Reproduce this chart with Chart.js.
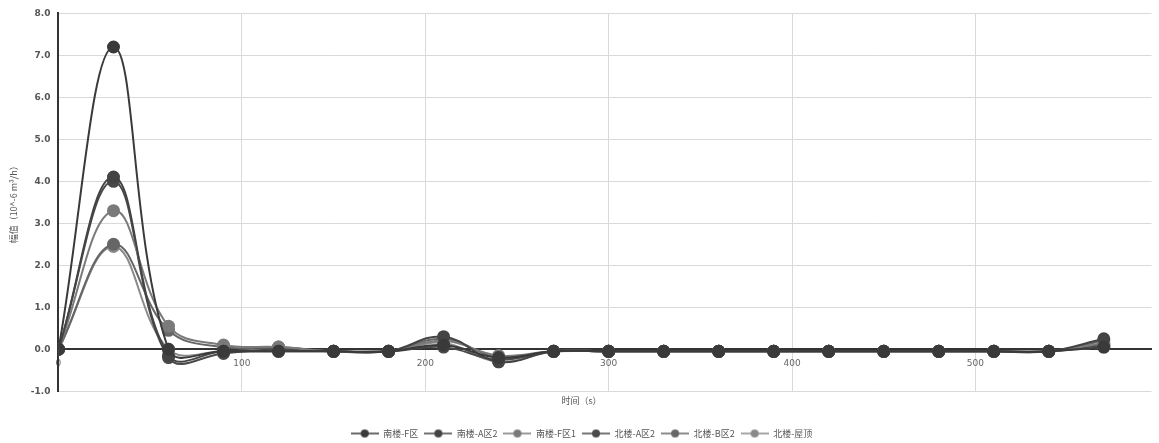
<!DOCTYPE html>
<html><head><meta charset="utf-8">
<script src="https://cdn.jsdelivr.net/npm/chart.js@4/dist/chart.umd.min.js"></script>
<style>html,body{margin:0;padding:0;background:#fff;}#wrap{width:1159px;height:443px;}</style>
</head><body><div id="wrap"><canvas id="c"></canvas></div>
<script>
const times = [0,30,60,90,120,150,180,210,240,270,300,330,360,390,420,450,480,510,540,570];
const seriesNames = ["南楼-F区","南楼-A区2","南楼-F区1","北楼-A区2","北楼-B区2","北楼-屋顶"];
const s1 = [0, 7.2, 0.0, -0.05, -0.05, -0.05, -0.05, 0.1, -0.2, -0.05, -0.05, -0.05, -0.05, -0.05, -0.05, -0.05, -0.05, -0.05, -0.05, 0.05];
const s2 = [0, 4.1, -0.15, -0.05, -0.05, -0.05, -0.05, 0.3, -0.3, -0.05, -0.05, -0.05, -0.05, -0.05, -0.05, -0.05, -0.05, -0.05, -0.05, 0.25];
const s3 = [0, 3.3, 0.55, 0.1, 0.05, -0.05, -0.05, 0.2, -0.15, -0.05, -0.05, -0.05, -0.05, -0.05, -0.05, -0.05, -0.05, -0.05, -0.05, 0.15];
const s4 = [0, 4.0, -0.2, -0.1, 0.0, -0.05, -0.05, 0.05, -0.25, -0.05, -0.05, -0.05, -0.05, -0.05, -0.05, -0.05, -0.05, -0.05, -0.05, 0.1];
const s5 = [0, 2.5, 0.45, 0.05, 0.05, -0.05, -0.05, 0.25, -0.2, -0.05, -0.05, -0.05, -0.05, -0.05, -0.05, -0.05, -0.05, -0.05, -0.05, 0.2];
const s6 = [0, 2.45, 0.0, -0.05, 0.0, -0.05, -0.05, 0.15, -0.3, -0.05, -0.05, -0.05, -0.05, -0.05, -0.05, -0.05, -0.05, -0.05, -0.05, 0.05];
const yTicks = [-1,0,1,2,3,4,5,6,7,8];
const xTicks = [0,100,200,300,400,500];

const allSeries = [s1,s2,s3,s4,s5,s6];
const colors = ["#3a3a3a","#444444","#7a7a7a","#4a4a4a","#666666","#8a8a8a"];

function legendIcon(color){
  const c = document.createElement('canvas');
  c.width = 28; c.height = 10;
  const g = c.getContext('2d');
  g.strokeStyle = color; g.lineWidth = 1.5;
  g.beginPath(); g.moveTo(0,5); g.lineTo(28,5); g.stroke();
  g.fillStyle = color;
  g.beginPath(); g.arc(14,5,4,0,Math.PI*2); g.fill();
  return c;
}

const datasets = allSeries.map((s,i)=>({
  label: seriesNames[i],
  data: s.map((v,j)=>({x: times[j], y: v})),
  borderColor: colors[i],
  backgroundColor: colors[i],
  borderWidth: 2,
  pointRadius: 5.5,
  pointHoverRadius: 5.5,
  tension: 0.4,
  fill: false
}));

new Chart(document.getElementById('c'), {
  type: 'line',
  data: { datasets },
  options: {
    responsive: true,
    maintainAspectRatio: false,
    animation: false,
    layout: { padding: { left: 8, right: 4, top: 8, bottom: -5 } },
    plugins: {
      legend: {
        position: 'bottom',
        labels: {
          font: { size: 9, family: 'Noto Sans CJK SC' },
          color: '#555',
          usePointStyle: true,
          pointStyleWidth: 28,
          padding: 6,
          generateLabels(chart){
            return chart.data.datasets.map((d,i)=>({text: d.label, pointStyle: legendIcon(d.borderColor), fillStyle: d.backgroundColor, strokeStyle: d.borderColor, lineWidth: 0, datasetIndex: i, fontColor:'#555'}));
          }
        }
      },
      title: {
        display: true,
        text: '时间（s）',
        position: 'bottom',
        weight: 500,
        color: '#555',
        font: { size: 9, family: 'Noto Sans CJK SC', weight: 'normal' },
        padding: { top: 4, bottom: 17 }
      },
      tooltip: { enabled: false }
    },
    scales: {
      x: {
        type: 'linear',
        min: 0, max: 596,
        position: { y: 0 },
        afterBuildTicks(scale){ scale.ticks = xTicks.map(v=>({value:v})); },
        grid: { color: '#d9d9d9', lineWidth: 1, drawTicks: false },
        border: { color: '#333', width: 2 },
        ticks: { color: '#666', font: { size: 9, family: 'DejaVu Sans' }, padding: 9, maxRotation: 0 }
      },
      y: {
        min: -1, max: 8,
        afterBuildTicks(scale){ scale.ticks = yTicks.map(v=>({value:v})); },
        grid: { color: '#d9d9d9', lineWidth: 1, drawTicks: false },
        border: { color: '#333', width: 2 },
        ticks: { color: '#555', font: { size: 9, family: 'DejaVu Sans', weight: 'bold' }, padding: 8, callback: v => Number(v).toFixed(1) },
        title: { display: true, text: '幅值（10^-6 m³/h）', color: '#555', font: { size: 9, family: 'Noto Sans CJK SC' }, padding: { top: 0, bottom: 4 } }
      }
    }
  }
});
</script>
</body></html>
